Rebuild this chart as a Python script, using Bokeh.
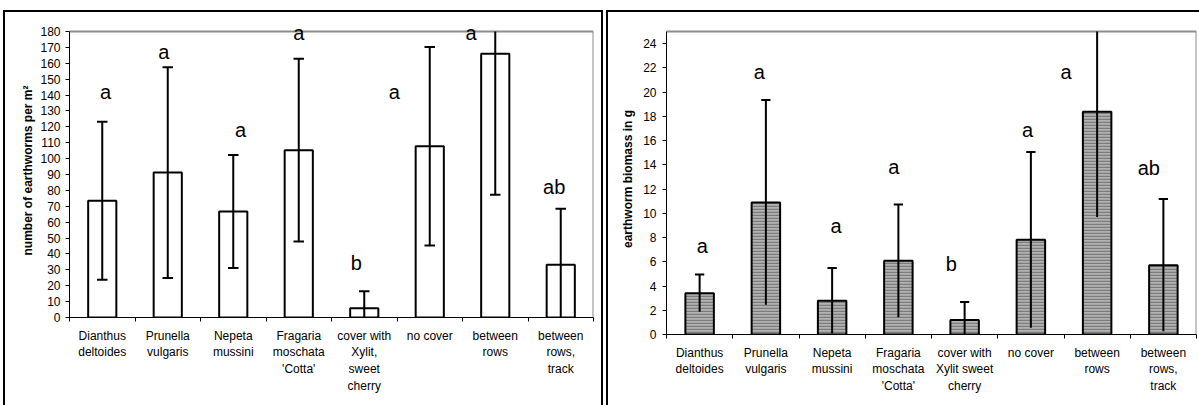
from bokeh.plotting import figure
from bokeh.layouts import row
from bokeh.models import Range1d, LinearAxis, FixedTicker, ColumnDataSource, LabelSet
from bokeh.embed import file_html
from bokeh.resources import INLINE
from bokeh.core.properties import value

# ---------------- data ----------------
labels_count = ["Dianthus\ndeltoides", "Prunella\nvulgaris", "Nepeta\nmussini",
                "Fragaria\nmoschata\n'Cotta'", "cover with\nXylit,\nsweet\ncherry",
                "no cover", "between\nrows", "between\nrows,\ntrack"]
labels_mass = ["Dianthus\ndeltoides", "Prunella\nvulgaris", "Nepeta\nmussini",
               "Fragaria\nmoschata\n'Cotta'", "cover with\nXylit sweet\ncherry",
               "no cover", "between\nrows", "between\nrows,\ntrack"]

count_mean = [73.5, 91.2, 66.7, 105.3, 5.9, 107.8, 166.0, 33.2]
count_sd = [49.7, 66.3, 35.5, 57.5, 10.6, 62.5, 88.8, 35.2]
count_letters = ["a", "a", "a", "a", "b", "a", "a", "ab"]

mass_mean = [3.41, 10.9, 2.78, 6.08, 1.19, 7.81, 18.37, 5.72]
mass_sd = [1.54, 8.45, 2.7, 4.65, 1.5, 7.25, 8.67, 5.45]
mass_letters = ["a", "a", "a", "a", "b", "a", "a", "ab"]

count_ticks = list(range(0, 181, 10))
mass_ticks = list(range(0, 25, 2))

# letter placement (baseline value, x shift in category units)
count_letter_y = [137.6, 162.8, 113.9, 174.7, 29.6, 137.6, 174.7, 77.8]
count_letter_dx = [0.05, -0.06, 0.11, 0.0, -0.12, -0.54, -0.37, -0.10]
mass_letter_y = [6.76, 21.06, 8.36, 13.23, 5.25, 16.3, 21.1, 13.17]
mass_letter_dx = [0.04, -0.10, 0.06, -0.07, -0.20, -0.05, -0.47, -0.22]

FONT = "Liberation Sans"
PAD_PX = 8  # free room above the plot area so letters there are not cut

LEFT_BOX = ("linear-gradient(#000,#000) 3px 10px / 2px 395px no-repeat, "
            "linear-gradient(#000,#000) 3px 10px / 600px 2px no-repeat, "
            "linear-gradient(#000,#000) 601px 10px / 2px 395px no-repeat, "
            "linear-gradient(#999,#999) 603px 10px / 1px 395px no-repeat")
RIGHT_BOX = ("linear-gradient(#000,#000) 0px 10px / 2px 395px no-repeat, "
             "linear-gradient(#000,#000) 0px 10px / 593px 2px no-repeat")


def panel(labels, mean, sd, letters, let_y, let_dx, ticks, ymax, ylabel,
          width, mb_left, mb_right, mb_bottom, area_h, hatched, lower_caps,
          cap_w, box_css, label_standoff, tick_standoff):
    n = len(labels)
    xs = [i + 0.5 for i in range(n)]
    hi = [min(m + s, ymax) for m, s in zip(mean, sd)]
    lo = [m - s for m, s in zip(mean, sd)]
    src = ColumnDataSource(dict(x=xs, top=mean, hi=hi, lo=lo,
                                cl=[x - cap_w / 2 for x in xs],
                                cr=[x + cap_w / 2 for x in xs]))
    ytop = ymax * (area_h + PAD_PX) / area_h
    p = figure(width=width, height=405, x_range=Range1d(0, n),
               y_range=Range1d(0, ytop), output_backend="svg",
               toolbar_location=None, x_axis_location=None,
               y_axis_location=None, min_border_left=mb_left,
               min_border_right=mb_right, min_border_top=31 - PAD_PX,
               min_border_bottom=mb_bottom)
    p.frame_align = False
    p.border_fill_color = None
    p.background_fill_color = None
    p.outline_line_color = None
    p.grid.visible = False
    p.styles = {"background": box_css}

    # grey plot-area border (top and right)
    p.segment(x0=[0, n], y0=[ymax, 0], x1=[n, n], y1=[ymax, ymax],
              line_color="#8c8c8c", line_width=2)

    yax = LinearAxis(ticker=FixedTicker(ticks=ticks), axis_label=ylabel,
                     bounds=(0, ymax))
    yax.axis_line_color = "black"
    yax.major_tick_out = 4
    yax.major_tick_in = 0
    yax.minor_tick_out = 0
    yax.minor_tick_in = 0
    yax.major_label_standoff = tick_standoff
    yax.major_label_text_font = FONT
    yax.major_label_text_font_size = "12px"
    yax.major_label_text_color = "black"
    yax.axis_label_text_font = FONT
    yax.axis_label_text_font_size = "12px"
    yax.axis_label_text_font_style = "bold"
    yax.axis_label_text_color = "black"
    yax.axis_label_standoff = label_standoff
    p.add_layout(yax, "left")

    xax = LinearAxis(ticker=FixedTicker(ticks=xs, minor_ticks=list(range(n + 1))))
    xax.major_label_overrides = {x: lab for x, lab in zip(xs, labels)}
    xax.axis_line_color = "black"
    xax.major_tick_out = 0
    xax.major_tick_in = 0
    xax.minor_tick_out = 4
    xax.minor_tick_in = 0
    xax.major_label_standoff = 7
    xax.major_label_text_font = FONT
    xax.major_label_text_font_size = "12px"
    xax.major_label_text_color = "black"
    xax.major_label_text_line_height = 1.2
    p.add_layout(xax, "below")

    if hatched:
        p.vbar(x="x", top="top", bottom=0, width=0.43, source=src,
               fill_color="#b2b2b2", hatch_pattern="horizontal_line",
               hatch_color="#7c7c7c", hatch_scale=3, hatch_weight=1.5,
               line_color="black", line_width=2)
    else:
        p.vbar(x="x", top="top", bottom=0, width=0.43, source=src,
               fill_color="white", line_color="black", line_width=2)

    p.segment(x0="x", y0="lo", x1="x", y1="hi", source=src,
              line_color="black", line_width=2)
    cap_src = ColumnDataSource(dict(
        cl=[c for c, h, m, s in zip(src.data["cl"], hi, mean, sd) if m + s <= ymax],
        cr=[c for c, h, m, s in zip(src.data["cr"], hi, mean, sd) if m + s <= ymax],
        y=[h for h, m, s in zip(hi, mean, sd) if m + s <= ymax]))
    p.segment(x0="cl", y0="y", x1="cr", y1="y", source=cap_src,
              line_color="black", line_width=2)
    if lower_caps:
        p.segment(x0="cl", y0="lo", x1="cr", y1="lo", source=src,
                  line_color="black", line_width=2)

    lsrc = ColumnDataSource(dict(x=[x + d for x, d in zip(xs, let_dx)],
                                 y=let_y, t=letters))
    p.add_layout(LabelSet(x="x", y="y", text="t", source=lsrc,
                          text_align="center", text_baseline="alphabetic",
                          y_offset=0, text_font=value(FONT),
                          text_font_size=value("20px"),
                          text_color="black"))
    return p


p1 = panel(labels_count, count_mean, count_sd, count_letters,
           count_letter_y, count_letter_dx, count_ticks, 180,
           "number of earthworms per m\u00b2", 603, 69, 10, 88, 286,
           False, True, 0.16, LEFT_BOX, 2, 5)
p2 = panel(labels_mass, mass_mean, mass_sd, mass_letters,
           mass_letter_y, mass_letter_dx, mass_ticks, 25,
           "earthworm biomass in g", 593, 60, 3, 71, 303,
           True, False, 0.14, RIGHT_BOX, 5, 6)

layout = row(p1, p2, spacing=3)
open("out.html", "w").write(file_html(layout, INLINE))
